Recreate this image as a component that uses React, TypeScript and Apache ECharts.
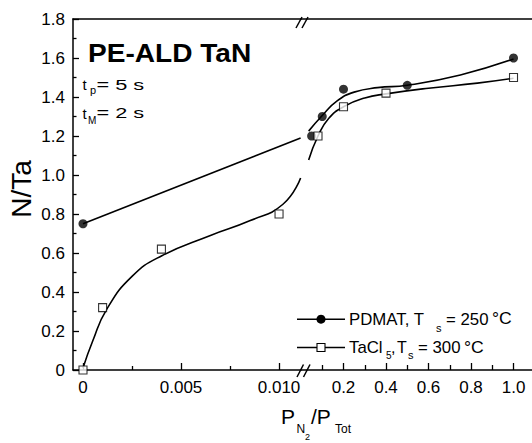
import React, { useEffect, useRef } from 'react';
import * as echarts from 'echarts';

const FONT = '"Liberation Sans", Arial, Helvetica, sans-serif';

// ---- data ----
// PDMAT, Ts = 250 °C (filled circles)
const pdmatLowX = [0];
const pdmatLowY = [0.75];
const pdmatHighX = [0.05, 0.1, 0.2, 0.5, 1.0];
const pdmatHighY = [1.2, 1.3, 1.44, 1.46, 1.6];
// TaCl5, Ts = 300 °C (open squares)
const taclLowX = [0, 0.001, 0.004, 0.01];
const taclLowY = [0, 0.32, 0.62, 0.8];
const taclHighX = [0.08, 0.2, 0.4, 1.0];
const taclHighY = [1.2, 1.35, 1.42, 1.5];

// guide curves drawn through the points
const pdmatFitLowX = [0, 0.0111];
const pdmatFitLowY = [0.75, 1.19];
const pdmatFitHighX = [0.036, 0.1, 0.17, 0.25, 0.36, 0.5, 0.75, 1.0];
const pdmatFitHighY = [1.225, 1.305, 1.38, 1.425, 1.448, 1.46, 1.513, 1.595];
const taclFitLowX = [0, 0.0005, 0.0012, 0.0025, 0.004, 0.0065, 0.0085, 0.0102, 0.0111];
const taclFitLowY = [0.01, 0.15, 0.31, 0.48, 0.585, 0.69, 0.765, 0.85, 0.985];
const taclFitHighX = [0.036, 0.08, 0.13, 0.2, 0.3, 0.4, 0.6, 0.83, 1.0];
const taclFitHighY = [1.077, 1.2, 1.29, 1.35, 1.395, 1.416, 1.445, 1.471, 1.496];

// axis ticks
const lowMajorTicks = [0, 0.005, 0.01];
const lowMinorTicks = [0.0025, 0.0075];
const highMajorTicks = [0.2, 0.4, 0.6, 0.8, 1.0];
const highMinorTicks = [0.1, 0.3, 0.5, 0.7, 0.9];
const yMin = 0;
const yMax = 1.8;
const yStep = 0.2;

const zip = (xs: number[], ys: number[]) => xs.map((x, i) => [x, ys[i]]);

const BLACK = '#000';

function txt(x: number, y: number, text: string, size: number, extra: any = {}) {
  const { scaleX, fontWeight, rotation, ...rest } = extra;
  return {
    type: 'text',
    x,
    y,
    scaleX: scaleX ?? 1,
    rotation: rotation ?? 0,
    z: 10,
    style: {
      text,
      fontSize: size,
      fontFamily: FONT,
      fontWeight: fontWeight ?? 'normal',
      fill: BLACK,
      align: 'left',
      verticalAlign: 'middle',
      ...rest,
    },
  };
}

function seg(x1: number, y1: number, x2: number, y2: number, w = 1.5) {
  return {
    type: 'line',
    z: 10,
    shape: { x1, y1, x2, y2 },
    style: { stroke: BLACK, lineWidth: w },
  };
}

export default function App() {
  const ref = useRef<HTMLDivElement>(null);

  useEffect(() => {
    if (!ref.current) return;
    const chart = echarts.init(ref.current, null, { renderer: 'svg' });

    const axisLine = { show: true, onZero: false, lineStyle: { color: BLACK, width: 1.5 } };
    const labelStyle = { color: BLACK, fontSize: 17, fontFamily: FONT };

    const lowMin = -0.00051;
    const lowMax = 0.01112;
    const highMin = 0;
    const highMax = 1.087;

    const lineSeries = (name: string, data: number[][], xi: number, yi: number) => ({
      name,
      type: 'line',
      xAxisIndex: xi,
      yAxisIndex: yi,
      data,
      smooth: 0.5,
      showSymbol: false,
      symbol: 'none',
      lineStyle: { color: BLACK, width: 1.6 },
      z: 2,
      silent: true,
    });
    const circleSeries = (data: number[][], xi: number, yi: number) => ({
      type: 'scatter',
      xAxisIndex: xi,
      yAxisIndex: yi,
      data,
      symbol: 'circle',
      symbolSize: 9,
      itemStyle: { color: BLACK },
      z: 4,
    });
    const squareSeries = (data: number[][], xi: number, yi: number) => ({
      type: 'scatter',
      xAxisIndex: xi,
      yAxisIndex: yi,
      data,
      symbol: 'rect',
      symbolSize: 8,
      itemStyle: { color: '#fff', borderColor: BLACK, borderWidth: 1.1 },
      z: 5,
    });

    const option: any = {
      animation: false,
      backgroundColor: '#fff',
      grid: [
        { left: 73, top: 19, width: 228, height: 351 },
        { left: 301, top: 19, right: 0, height: 351 },
      ],
      xAxis: [
        {
          gridIndex: 0,
          type: 'value',
          position: 'bottom',
          min: lowMin,
          max: lowMax,
          axisLine,
          splitLine: { show: false },
          axisTick: { show: true, inside: true, length: 7, customValues: lowMajorTicks, lineStyle: { color: BLACK, width: 1.3 } },
          axisLabel: {
            ...labelStyle,
            margin: 9,
            customValues: lowMajorTicks,
            formatter: (v: number) => (v === 0 ? '0' : v.toFixed(3)),
          },
        },
        {
          gridIndex: 0,
          type: 'value',
          position: 'bottom',
          min: lowMin,
          max: lowMax,
          axisLine: { show: false },
          splitLine: { show: false },
          axisTick: { show: true, inside: true, length: 4, customValues: lowMinorTicks, lineStyle: { color: BLACK, width: 1.3 } },
          axisLabel: { show: false },
        },
        {
          gridIndex: 0,
          type: 'value',
          position: 'top',
          min: lowMin,
          max: lowMax,
          axisLine,
          splitLine: { show: false },
          axisTick: { show: false },
          axisLabel: { show: false },
        },
        {
          gridIndex: 1,
          type: 'value',
          position: 'bottom',
          min: highMin,
          max: highMax,
          axisLine,
          splitLine: { show: false },
          axisTick: { show: true, inside: true, length: 7, customValues: highMajorTicks, lineStyle: { color: BLACK, width: 1.3 } },
          axisLabel: {
            ...labelStyle,
            margin: 9,
            customValues: highMajorTicks,
            formatter: (v: number) => v.toFixed(1),
          },
        },
        {
          gridIndex: 1,
          type: 'value',
          position: 'bottom',
          min: highMin,
          max: highMax,
          axisLine: { show: false },
          splitLine: { show: false },
          axisTick: { show: true, inside: true, length: 5, customValues: highMinorTicks, lineStyle: { color: BLACK, width: 1.3 } },
          axisLabel: { show: false },
        },
        {
          gridIndex: 1,
          type: 'value',
          position: 'top',
          min: highMin,
          max: highMax,
          axisLine,
          splitLine: { show: false },
          axisTick: { show: false },
          axisLabel: { show: false },
        },
      ],
      yAxis: [
        {
          gridIndex: 0,
          type: 'value',
          min: yMin,
          max: yMax,
          interval: yStep,
          axisLine,
          splitLine: { show: false },
          axisTick: { show: true, inside: true, length: 6, lineStyle: { color: BLACK, width: 1.3 } },
          minorTick: { show: true, splitNumber: 2, length: 3.5, lineStyle: { color: BLACK, width: 1.3 } },
          minorSplitLine: { show: false },
          axisLabel: {
            ...labelStyle,
            margin: 8,
            formatter: (v: number) => (v === 0 ? '0' : v.toFixed(1)),
          },
        },
        {
          gridIndex: 1,
          type: 'value',
          min: yMin,
          max: yMax,
          interval: yStep,
          show: false,
          splitLine: { show: false },
        },
      ],
      series: [
        lineSeries('pdmatFitLow', zip(pdmatFitLowX, pdmatFitLowY), 0, 0),
        lineSeries('taclFitLow', zip(taclFitLowX, taclFitLowY), 0, 0),
        lineSeries('pdmatFitHigh', zip(pdmatFitHighX, pdmatFitHighY), 3, 1),
        lineSeries('taclFitHigh', zip(taclFitHighX, taclFitHighY), 3, 1),
        circleSeries(zip(pdmatLowX, pdmatLowY), 0, 0),
        squareSeries(zip(taclLowX, taclLowY), 0, 0),
        circleSeries(zip(pdmatHighX, pdmatHighY), 3, 1),
        squareSeries(zip(taclHighX, taclHighY), 3, 1),
      ],
      graphic: [
        // axis break marks
        seg(296, 28, 302, 17),
        seg(302, 28, 308, 17),
        seg(297, 377, 303.5, 364.5),
        seg(303.5, 377, 310, 364.5),
        // y axis title
        {
          type: 'text',
          x: 21,
          y: 189,
          rotation: Math.PI / 2,
          z: 10,
          style: {
            text: 'N/Ta',
            fontSize: 28,
            fontFamily: FONT,
            fill: BLACK,
            align: 'center',
            verticalAlign: 'middle',
          },
        },
        // title and conditions
        txt(88, 53, 'PE-ALD TaN', 26, { fontWeight: 'bold', scaleX: 1.08 }),
        txt(82.5, 84.8, 't', 15),
        txt(90, 90, 'p', 11),
        txt(96.5, 84.8, '= 5 s', 15, { scaleX: 1.45 }),
        txt(82.5, 113, 't', 15),
        txt(88, 120, 'M', 10),
        txt(96.5, 113, '= 2 s', 15, { scaleX: 1.45 }),
        // x axis title
        txt(281, 416, 'P', 21),
        txt(296.5, 429, 'N', 12),
        txt(305, 436.5, '2', 9),
        txt(311, 416, '/P', 21),
        txt(335, 429, 'Tot', 12),
        // legend
        seg(297, 319.2, 345, 319.2, 1.5),
        { type: 'circle', z: 11, shape: { cx: 321, cy: 319.2, r: 4.5 }, style: { fill: BLACK } },
        txt(349, 319.2, 'PDMAT, T', 16, { scaleX: 1.05 }),
        txt(436, 328, 's', 11),
        txt(446, 319.2, '= 250', 16, { scaleX: 1.05 }),
        txt(492, 319.2, '°C', 16, { scaleX: 1.1 }),
        seg(297, 347.5, 345, 347.5, 1.5),
        { type: 'rect', z: 11, shape: { x: 317, y: 343.5, width: 8, height: 8 }, style: { fill: '#fff', stroke: BLACK, lineWidth: 1.1 } },
        txt(349, 347.5, 'TaCl', 16, { scaleX: 1.05 }),
        txt(386, 355, '5', 10),
        txt(391, 347.5, ',', 16),
        txt(397, 347.5, 'T', 16),
        txt(408, 355, 's', 11),
        txt(418, 347.5, '= 300', 16, { scaleX: 1.05 }),
        txt(464, 347.5, '°C', 16, { scaleX: 1.1 }),
      ],
    };

    chart.setOption(option);
    return () => chart.dispose();
  }, []);

  return (
    <div
      ref={ref}
      style={{ position: 'absolute', left: 0, top: 0, width: 532, height: 443, background: '#fff' }}
    />
  );
}
